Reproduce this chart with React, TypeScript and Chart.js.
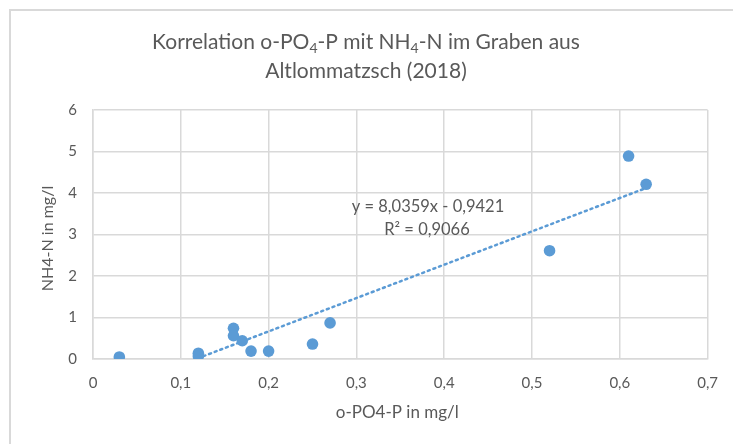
import React, { useEffect, useRef } from "react";
import { Chart, registerables } from "chart.js";

Chart.register(...registerables);

// ---- data ----
const xValues = [0.03, 0.12, 0.12, 0.16, 0.16, 0.17, 0.18, 0.2, 0.25, 0.27, 0.52, 0.61, 0.63];
const yValues = [0.05, 0.14, 0.07, 0.74, 0.56, 0.44, 0.19, 0.19, 0.36, 0.87, 2.61, 4.89, 4.21];
const xTickLabels = ["0", "0,1", "0,2", "0,3", "0,4", "0,5", "0,6", "0,7"];
const yTickLabels = ["0", "1", "2", "3", "4", "5", "6"];
const trendSlope = 8.0359;
const trendIntercept = -0.9421;
const trendEquation = "y = 8,0359x - 0,9421";
const trendR2 = "R² = 0,9066";
const titleLine1: [string, boolean][] = [
  ["Korrelation o-PO", false],
  ["4", true],
  ["-P mit NH", false],
  ["4", true],
  ["-N im Graben aus", false],
];
const titleLine2 = "Altlommatzsch (2018)";
const xAxisTitle = "o-PO4-P in mg/l";
const yAxisTitle = "NH4-N in mg/l";

const FONT = "Lato, 'Open Sans', sans-serif";
const TEXT = "#595959";
const GRID = "#d9d9d9";
const BLUE = "#5b9bd5";

const textPlugin = {
  id: "textPlugin",
  afterDraw(chart: any) {
    const ctx = chart.ctx as CanvasRenderingContext2D;
    const area = chart.chartArea;
    ctx.save();
    ctx.fillStyle = TEXT;
    ctx.textBaseline = "alphabetic";
    // title line 1 with subscripts
    const big = `21px ${FONT}`;
    const small = `14px ${FONT}`;
    let total = 0;
    for (const [t, sub] of titleLine1) {
      ctx.font = sub ? small : big;
      total += ctx.measureText(t).width;
    }
    const cx = 355;
    let x = cx - total / 2;
    ctx.textAlign = "left";
    for (const [t, sub] of titleLine1) {
      ctx.font = sub ? small : big;
      ctx.fillText(t, x, sub ? 42 : 38);
      x += ctx.measureText(t).width;
    }
    ctx.font = big;
    ctx.textAlign = "center";
    ctx.fillText(titleLine2, cx, 67);

    // axis titles
    ctx.textBaseline = "middle";
    ctx.font = `17px ${FONT}`;
    ctx.fillText(xAxisTitle, (area.left + area.right) / 2 - 3, 402);
    ctx.save();
    ctx.font = `16px ${FONT}`;
    ctx.translate(37, (area.top + area.bottom) / 2 + 4);
    ctx.rotate(-Math.PI / 2);
    ctx.fillText(yAxisTitle, 0, 0);
    ctx.restore();

    // trendline label
    ctx.font = `16.5px ${FONT}`;
    ctx.fillText(trendEquation, 417, 196);
    ctx.fillText(trendR2, 416, 219);
    ctx.restore();
  },
};

export default function App() {
  const canvasRef = useRef<HTMLCanvasElement | null>(null);

  useEffect(() => {
    const canvas = canvasRef.current;
    if (!canvas) return;
    const points = xValues.map((x, i) => ({ x, y: yValues[i] }));
    const minX = Math.min(...xValues);
    const maxX = Math.max(...xValues);
    const trend = [
      { x: minX, y: trendSlope * minX + trendIntercept },
      { x: maxX, y: trendSlope * maxX + trendIntercept },
    ];
    const chart = new Chart(canvas, {
      type: "scatter",
      data: {
        datasets: [
          {
            type: "line",
            data: trend,
            borderColor: BLUE,
            borderWidth: 2.5,
            borderDash: [2, 4],
            borderCapStyle: "round",
            pointRadius: 0,
            fill: false,
            order: 2,
          } as any,
          {
            data: points,
            backgroundColor: BLUE,
            borderColor: BLUE,
            borderWidth: 0,
            pointRadius: 5.8,
            order: 1,
          },
        ],
      },
      options: {
        animation: false,
        responsive: true,
        maintainAspectRatio: false,
        layout: { padding: { left: 0, top: 99, right: 22, bottom: 0 } },
        plugins: {
          legend: { display: false },
          title: { display: false },
          tooltip: { enabled: false },
        },
        scales: {
          x: {
            type: "linear",
            min: 0,
            max: 0.7,
            afterFit: (s: any) => {
              s.height = 85;
            },
            grid: { color: GRID, lineWidth: 1.5, drawTicks: false },
            border: { color: GRID, width: 1.5 },
            ticks: {
              stepSize: 0.1,
              padding: 15,
              color: TEXT,
              font: { family: FONT, size: 15 },
              callback: (v: any) => xTickLabels[Math.round(Number(v) * 10)],
            },
          },
          y: {
            type: "linear",
            min: 0,
            max: 6,
            afterFit: (s: any) => {
              s.width = 82;
            },
            grid: { color: GRID, lineWidth: 1.5, drawTicks: false },
            border: { color: GRID, width: 1.5 },
            ticks: {
              stepSize: 1,
              padding: 16,
              color: TEXT,
              font: { family: FONT, size: 15 },
              callback: (v: any) => yTickLabels[Math.round(Number(v))],
            },
          },
        },
      },
      plugins: [textPlugin],
    });
    return () => chart.destroy();
  }, []);

  return (
    <div
      style={{
        position: "fixed",
        left: 9,
        top: 9,
        width: 724,
        height: 435,
        boxSizing: "border-box",
        borderTop: `2px solid ${GRID}`,
        borderLeft: `2px solid ${GRID}`,
        background: "#fff",
      }}
    >
      <div style={{ position: "relative", width: 722, height: 433 }}>
        <canvas ref={canvasRef} />
      </div>
    </div>
  );
}
